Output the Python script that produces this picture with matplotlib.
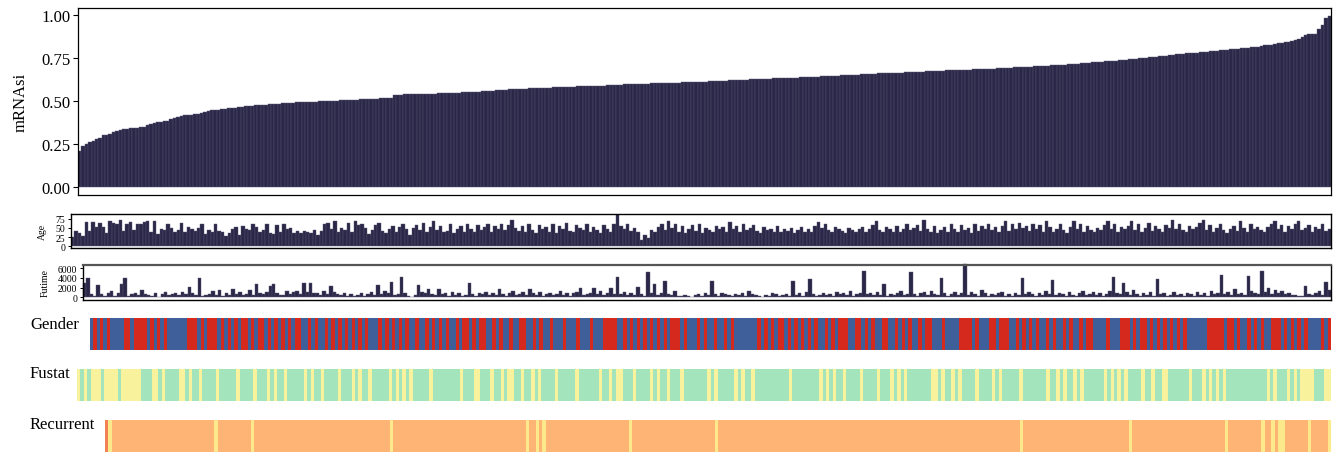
import numpy as np
import matplotlib
matplotlib.use("Agg")
from matplotlib import pyplot as plt
from matplotlib.colors import to_rgb
from matplotlib.ticker import FormatStrFormatter

plt.rcParams['font.family'] = ['Liberation Serif', 'DejaVu Serif']

# sorted stemness index, one value per sample
mrnasi = [
    0.210, 0.240, 0.252, 0.260, 0.270, 0.276, 0.285, 0.300, 0.304, 0.308,
    0.320, 0.325, 0.330, 0.335, 0.337, 0.340, 0.343, 0.345, 0.346, 0.348,
    0.360, 0.368, 0.372, 0.378, 0.380, 0.383, 0.386, 0.395, 0.400, 0.405,
    0.410, 0.418, 0.420, 0.421, 0.422, 0.425, 0.432, 0.437, 0.440, 0.445,
    0.448, 0.450, 0.452, 0.455, 0.457, 0.459, 0.462, 0.465, 0.467, 0.468,
    0.470, 0.472, 0.474, 0.475, 0.476, 0.478, 0.480, 0.482, 0.483, 0.484,
    0.486, 0.488, 0.490, 0.491, 0.492, 0.493, 0.494, 0.494, 0.495, 0.496,
    0.497, 0.498, 0.499, 0.500, 0.500, 0.501, 0.502, 0.503, 0.504, 0.505,
    0.506, 0.507, 0.508, 0.509, 0.510, 0.510, 0.512, 0.513, 0.514, 0.515,
    0.516, 0.517, 0.518, 0.535, 0.536, 0.537, 0.538, 0.538, 0.539, 0.540,
    0.540, 0.541, 0.541, 0.542, 0.543, 0.543, 0.544, 0.545, 0.545, 0.546,
    0.547, 0.548, 0.549, 0.550, 0.551, 0.552, 0.553, 0.554, 0.555, 0.556,
    0.557, 0.558, 0.560, 0.562, 0.563, 0.565, 0.566, 0.567, 0.568, 0.569,
    0.570, 0.571, 0.572, 0.573, 0.574, 0.575, 0.576, 0.577, 0.577, 0.578,
    0.579, 0.580, 0.581, 0.582, 0.582, 0.583, 0.584, 0.585, 0.585, 0.586,
    0.587, 0.587, 0.588, 0.588, 0.589, 0.590, 0.591, 0.592, 0.593, 0.594,
    0.595, 0.596, 0.596, 0.597, 0.598, 0.599, 0.600, 0.600, 0.601, 0.602,
    0.602, 0.603, 0.604, 0.604, 0.605, 0.606, 0.606, 0.607, 0.608, 0.608,
    0.609, 0.610, 0.610, 0.611, 0.612, 0.613, 0.614, 0.615, 0.616, 0.617,
    0.618, 0.619, 0.620, 0.621, 0.622, 0.623, 0.624, 0.625, 0.626, 0.627,
    0.628, 0.628, 0.629, 0.630, 0.630, 0.631, 0.632, 0.633, 0.633, 0.634,
    0.635, 0.635, 0.636, 0.637, 0.638, 0.639, 0.640, 0.641, 0.642, 0.643,
    0.644, 0.645, 0.646, 0.647, 0.648, 0.649, 0.650, 0.651, 0.652, 0.653,
    0.654, 0.655, 0.656, 0.657, 0.658, 0.659, 0.660, 0.661, 0.661, 0.662,
    0.663, 0.664, 0.664, 0.665, 0.666, 0.667, 0.668, 0.669, 0.670, 0.671,
    0.672, 0.673, 0.674, 0.675, 0.676, 0.677, 0.678, 0.679, 0.680, 0.680,
    0.681, 0.682, 0.683, 0.683, 0.684, 0.685, 0.686, 0.687, 0.688, 0.689,
    0.689, 0.690, 0.691, 0.692, 0.693, 0.694, 0.695, 0.696, 0.697, 0.698,
    0.699, 0.700, 0.701, 0.702, 0.703, 0.705, 0.706, 0.707, 0.708, 0.710,
    0.711, 0.712, 0.714, 0.715, 0.716, 0.718, 0.719, 0.720, 0.722, 0.724,
    0.725, 0.727, 0.728, 0.730, 0.731, 0.733, 0.735, 0.737, 0.738, 0.740,
    0.742, 0.744, 0.746, 0.748, 0.750, 0.752, 0.754, 0.756, 0.758, 0.760,
    0.762, 0.764, 0.767, 0.769, 0.771, 0.773, 0.775, 0.777, 0.779, 0.780,
    0.782, 0.783, 0.785, 0.786, 0.788, 0.790, 0.792, 0.794, 0.796, 0.798,
    0.800, 0.802, 0.804, 0.806, 0.808, 0.810, 0.812, 0.814, 0.817, 0.820,
    0.823, 0.825, 0.828, 0.832, 0.836, 0.840, 0.842, 0.845, 0.850, 0.856,
    0.860, 0.870, 0.885, 0.887, 0.888, 0.890, 0.920, 0.940, 0.980, 0.995,
]

age = [
    26, 42, 37, 28, 67, 42, 67, 52, 64, 52,
    37, 70, 64, 61, 73, 42, 61, 67, 45, 60,
    62, 66, 68, 40, 70, 32, 48, 45, 62, 50,
    40, 44, 65, 38, 52, 46, 41, 50, 62, 33,
    45, 38, 60, 42, 40, 28, 36, 47, 52, 30,
    55, 48, 44, 62, 52, 38, 45, 60, 35, 32,
    58, 40, 62, 48, 50, 35, 43, 37, 42, 40,
    36, 44, 30, 42, 60, 63, 46, 70, 38, 50,
    45, 65, 40, 68, 58, 62, 50, 33, 45, 58,
    65, 42, 36, 47, 55, 38, 52, 60, 48, 30,
    50, 57, 45, 64, 40, 52, 68, 45, 55, 38,
    42, 60, 35, 48, 55, 40, 62, 46, 38, 58,
    44, 52, 60, 38, 55, 48, 62, 45, 58, 72,
    50, 42, 56, 38, 62, 44, 35, 58, 46, 52,
    40, 60, 36, 55, 48, 64, 42, 38, 58, 50,
    45, 62, 38, 52, 44, 35, 58, 48, 40, 62,
    90, 55, 48, 60, 42, 50, 38, 18, 30, 22,
    45, 38, 52, 60, 44, 68, 50, 62, 40, 55,
    36, 48, 58, 42, 62, 35, 50, 44, 38, 56,
    46, 52, 40, 66, 48, 55, 38, 60, 44, 50,
    58, 42, 36, 52, 45, 48, 40, 55, 38, 47,
    42, 50, 35, 44, 52, 38, 46, 40, 55, 66,
    50, 60, 45, 38, 52, 48, 42, 36, 50, 44,
    40, 46, 52, 38, 48, 58, 70, 44, 38, 52,
    46, 40, 55, 38, 48, 62, 44, 50, 58, 42,
    72, 48, 40, 56, 36, 44, 52, 38, 62, 46,
    40, 58, 45, 50, 36, 62, 42, 55, 48, 60,
    44, 52, 38, 56, 68, 42, 60, 48, 64, 50,
    55, 42, 62, 46, 58, 40, 70, 52, 38, 48,
    60, 44, 36, 52, 68, 48, 62, 40, 55, 45,
    38, 50, 44, 58, 70, 46, 62, 40, 52, 48,
    56, 68, 44, 60, 38, 50, 64, 42, 55, 46,
    40, 58, 50, 72, 46, 62, 44, 38, 56, 48,
    52, 64, 72, 45, 58, 40, 50, 62, 44, 36,
    48, 56, 42, 70, 50, 38, 60, 46, 54, 44,
    40, 52, 62, 70, 46, 58, 40, 55, 48, 62,
    68, 44, 50, 58, 38, 52, 46, 60, 42, 48,
]

futime = [
    3000, 3900, 700, 200, 2500, 700, 300, 800, 1300, 300,
    900, 2700, 3900, 250, 600, 900, 400, 1400, 700, 500,
    300, 800, 150, 600, 1000, 400, 700, 900, 500, 1100,
    600, 2200, 800, 400, 3900, 300, 500, 700, 1200, 400,
    1500, 300, 800, 500, 1600, 700, 1000, 400, 600, 1500,
    500, 2700, 900, 600, 1100, 2300, 2700, 800, 500, 400,
    1200, 700, 1000, 1300, 600, 3000, 1100, 2900, 800, 900,
    500, 1200, 700, 2300, 1000, 600, 400, 800, 300, 700,
    200, 500, 900, 300, 600, 1000, 400, 2500, 700, 1200,
    800, 3100, 500, 600, 4100, 900, 200, 100, 400, 2500,
    1100, 900, 1600, 700, 500, 1800, 600, 900, 300, 1000,
    400, 800, 200, 500, 3000, 700, 300, 900, 600, 1100,
    400, 800, 500, 1700, 600, 300, 900, 1200, 500, 700,
    1000, 400, 1700, 800, 500, 1100, 300, 700, 900, 400,
    600, 1200, 500, 900, 300, 800, 1100, 2000, 400, 700,
    900, 2000, 600, 1300, 500, 800, 2000, 700, 4200, 600,
    1000, 500, 800, 400, 2200, 700, 300, 5100, 900, 2700,
    500, 800, 3300, 600, 400, 1200, 300, 200, 500, 300,
    100, 400, 600, 200, 800, 500, 3300, 700, 300, 900,
    600, 400, 200, 700, 500, 800, 300, 1200, 600, 400,
    200, 100, 500, 300, 800, 600, 200, 400, 700, 300,
    3300, 500, 800, 300, 1000, 3700, 600, 200, 500, 900,
    400, 700, 300, 1100, 600, 800, 500, 1200, 300, 700,
    900, 5300, 600, 800, 400, 1000, 500, 2700, 300, 700,
    500, 900, 1300, 400, 700, 5100, 600, 300, 800, 1000,
    400, 1200, 700, 500, 4000, 900, 300, 600, 1100, 400,
    800, 6900, 500, 1000, 700, 300, 1400, 900, 200, 600,
    400, 800, 1100, 300, 600, 200, 900, 500, 4000, 700,
    1000, 600, 300, 800, 500, 1200, 700, 3500, 400, 900,
    600, 300, 1000, 500, 200, 800, 1300, 400, 700, 1100,
    500, 900, 300, 700, 1200, 4200, 800, 600, 3000, 1000,
    400, 1500, 700, 300, 900, 500, 1100, 200, 3700, 600,
    800, 300, 500, 1000, 400, 700, 200, 900, 600, 300,
    1100, 500, 800, 300, 1300, 700, 900, 4500, 600, 1000,
    400, 1600, 700, 900, 500, 4300, 1200, 800, 600, 5300,
    1000, 2000, 700, 1500, 900, 1300, 600, 800, 400, 500,
    300, 200, 2300, 700, 500, 900, 1200, 400, 3100, 1500,
]

# M = male (blue), F = female (red)
gender = (
    "MFMFMF" "MMMM" "FF" "M" "FFFF" "MFMFMF" "MMMMMM" "FFF" "MFM" "FFF" "MFMFMFM" "FF" "M"
    "FMFFMFMFMFMFM" "FFMM" "FMF" "MM" "FMFMFMFMFMFMF" "MMM" "FMFMFMFMF" "MM" "F" "MM" "F"
    "MFMFMF" "MM" "F" "M" "FF" "M" "F" "M" "FF" "MM" "F" "M" "F" "MM" "F" "MM" "FF" "MM"
    "F" "M" "F" "MM" "F" "MMM" "F" "MMM" "F" "MMM" "F" "MMM" "FFFF"
    "MM" "FMFMFMFMFMFMFM" "FFF" "MF" "MMM" "FMF" "MM" "F" "MM" "FMF" "MMMMMMM" "FMFMFM" "FF" "MF"
    "MFMFMFMF" "MM" "F" "M" "F" "M" "FFF" "MM" "FF" "M" "F" "M" "F" "MM" "FF" "MM" "F" "M"
    "F" "M" "F" "MM" "F" "M" "FF" "MMM" "F" "MMMM" "FFFF"
    "M" "F" "MMM" "FF" "M" "FFF" "MM" "F" "M" "F" "M" "F" "M" "F" "MM" "F" "M" "F" "MM" "F"
    "M" "F" "MM" "F" "M" "FF" "MMMM" "F" "MMM" "FFF" "M" "F" "M" "FF" "M" "F"
    "MFMFMFMFMF" "MMMMMM" "FFFFF" "M" "FF" "M" "F" "MM" "F" "M" "F" "M" "F" "MM" "FFF"
    "M" "F" "M" "F" "M" "F" "M" "F" "MMMM" "F" "M" "F"
)

# A = alive (green), D = dead (yellow)
fustat = (
    "DADADDDADD" "DDADDDDDDA" "AADDADAAAA" "DDADAADAAA" "ADAAAAADAA"
    "AADAAADADA" "ADAAAAADAD" "AADAAAADAA" "ADADAADAAA" "AADADADADA"
    "AAAADAAAAA" "AAADAAADDA" "AADAADADDA" "ADAADADAAA" "ADAAAAADAA"
    "AAAADAADAD" "DAAADAAAAD" "ADAADAAADA" "AAAAAADADA" "AAAADADAAD"
    "AAAAAAAAAA" "DAAAAAAAAD" "ADADAADAAA" "ADAAAADAAA" "DADADAAAAA"
    "AADDADAADA" "DAAAADAAAA" "DADAAAAADA" "AAAAAADAAD" "ADAADADAAA"
    "AAADADADAD" "AAAADAADAA" "DDAAAAAADA" "AADADADADA" "AAAAAAAAAA"
    "ADADAAADAD" "ADDDDAAADD"
)

# N = no recurrence (orange), Y = recurrence (yellow), U = unknown
recurrent = (
    "UYNNNNNNNN" "NNNNNNNNNN" "NNNNNNNNNN" "NNNYNNNNNN" "NNNNYNNNNN"
    "NNNNNNNNNN" "NNNNNNNNNN" "NNNNNNNNNN" "NNNNNNYNNN" "NNNNNNNNNN"
    "NNNNNNNNNN" "NNNNNNNNNN" "NNNNNNNYNN" "YNYNNNNNNN" "NNNNNNNNNN"
    "NNNNNNNNYN" "NNNNNNNNNN" "NNNNNNNNNN" "NNNNYNNNNN" "NNNNNNNNNN"
    "NNNNNNNNNN" "NNNNNNNNNN" "NNNNNNNNNN" "NNNNNNNNNN" "NNNNNNNNNN"
    "NNNNNNNNNN" "NNNNNNNNNN" "NNNNNNYNNN" "NNNNNNNNNN" "NNNNNNNNNN"
    "NNNNNNNNNY" "NNNNNNNNNN" "NNNNNNNNNN" "NNNNNNNNYN" "NNNNNNNNNY"
    "NNYNYYNNNN" "NNNYNNNNNY"
)

bar_col = '#2a2748'
sep_col = '#57556f'
gender_col = {'M': '#3f5f9a', 'F': '#d5291d'}
fustat_col = {'A': '#a3e4bc', 'D': '#f8f29d'}
recur_col = {'N': '#fdb474', 'Y': '#fce98b', 'U': '#f08255'}

W, H = 1339.0, 460.0


def box(x0, y0, x1, y1):
    return [x0 / W, 1 - y1 / H, (x1 - x0) / W, (y1 - y0) / H]


fig = plt.figure(figsize=(13.39, 4.6), dpi=100)

# main mRNAsi panel
ax = fig.add_axes(box(78, 9, 1331, 196))
x = np.arange(len(mrnasi))
ax.bar(x, mrnasi, width=1.0, color=bar_col, edgecolor=sep_col, linewidth=0.3)
ax.set_xlim(-0.5, len(mrnasi) - 0.5)
ax.set_ylim(-0.047, 1.041)
ax.set_yticks([0, 0.25, 0.5, 0.75, 1.0])
ax.yaxis.set_major_formatter(FormatStrFormatter('%.2f'))
ax.set_xticks([])
ax.tick_params(axis='y', length=3.5, width=0.8, labelsize=12, pad=2)
ax.set_ylabel('mRNAsi', fontsize=12, labelpad=9)
for s in ax.spines.values():
    s.set_linewidth(0.9)

# age panel
ax = fig.add_axes(box(71, 214.5, 1331, 248.5))
x = np.arange(len(age))
ax.bar(x, age, width=1.0, color=bar_col, edgecolor=sep_col, linewidth=0.3)
ax.set_xlim(-0.5, len(age) - 0.5)
ax.set_ylim(-4, 90)
ax.set_yticks([0, 25, 50, 75])
ax.set_xticks([])
ax.tick_params(axis='y', length=2.5, width=0.7, labelsize=7, pad=1.5)
ax.set_ylabel('Age', fontsize=7, labelpad=6)
for s in ax.spines.values():
    s.set_linewidth(1.0)

# futime panel
ax = fig.add_axes(box(83, 266, 1331, 300.5))
x = np.arange(len(futime))
ax.bar(x, futime, width=1.0, color=bar_col, edgecolor=sep_col, linewidth=0.3,
       clip_on=False)
ax.set_xlim(-0.5, len(futime) - 0.5)
ax.set_ylim(-450, 6615)
ax.set_yticks([0, 2000, 4000, 6000])
ax.set_xticks([])
ax.tick_params(axis='y', length=2.5, width=0.7, labelsize=7, pad=1.5)
ax.set_ylabel('Futime', fontsize=7, labelpad=6)
for s in ax.spines.values():
    s.set_linewidth(1.0)
ax.spines['top'].set_linewidth(1.6)
ax.spines['top'].set_color('#555555')

# annotation strips, one cell per sample
strips = [
    ('Gender', gender, gender_col, (90, 319, 1331, 351), 329),
    ('Fustat', fustat, fustat_col, (77, 370, 1331, 402), 378),
    ('Recurrent', recurrent, recur_col, (105, 421, 1331, 453), 429),
]
for name, values, cmap, pos, base in strips:
    ax = fig.add_axes(box(*pos))
    rgb = np.array([[to_rgb(cmap[v]) for v in values]])
    ax.imshow(rgb, aspect='auto', interpolation='nearest',
              extent=(-0.5, len(values) - 0.5, 0, 1))
    ax.set_xlim(-0.5, len(values) - 0.5)
    ax.set_ylim(0, 1)
    ax.axis('off')
    fig.text(30 / W, 1 - base / H, name, fontsize=12, ha='left', va='baseline')

fig.savefig('out.png', dpi=100)
